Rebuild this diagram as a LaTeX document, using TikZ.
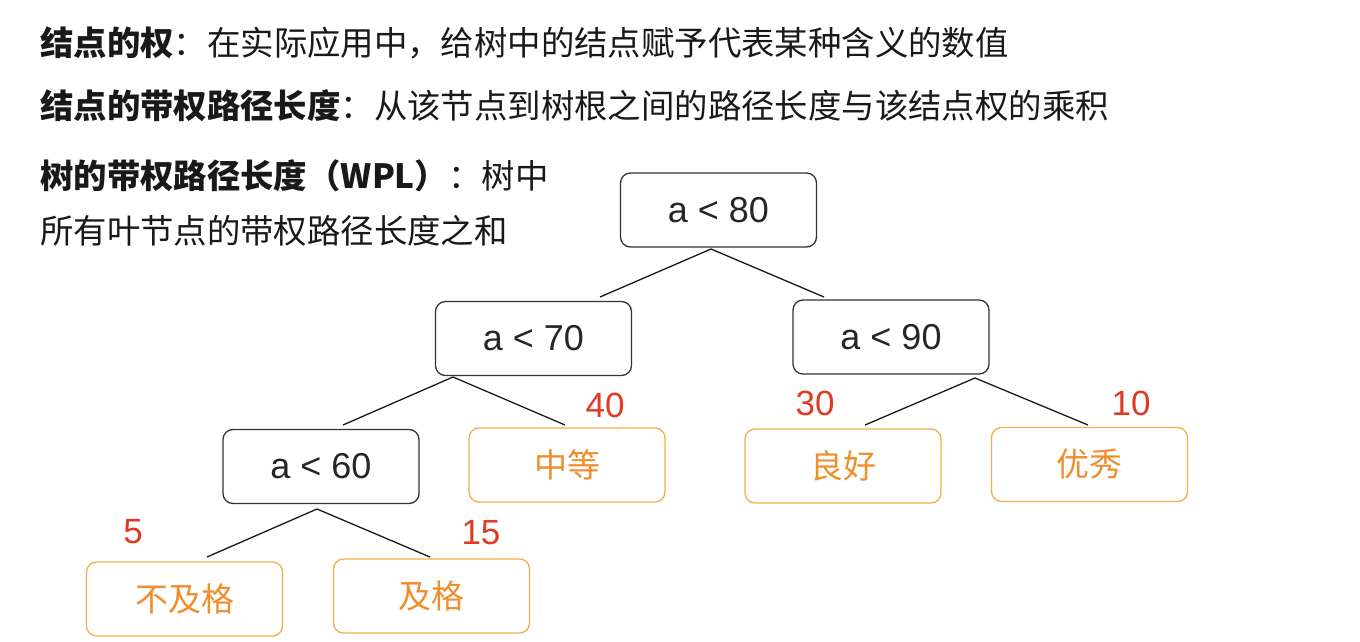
\documentclass[tikz,border=0pt]{standalone}
\usepackage{fontspec}
\setmainfont{Noto Sans CJK SC}
\newfontfamily\latinsans{Liberation Sans}
\definecolor{boxline}{HTML}{333333}
\definecolor{orangeline}{HTML}{F3AE4B}
\definecolor{orangetext}{HTML}{EF8E2C}
\definecolor{weightred}{HTML}{E03A24}
\tikzset{
  decbox/.style={draw=boxline, line width=1.3pt, rounded corners=10pt, minimum width=196pt, minimum height=74pt, inner sep=0pt, font=\latinsans\fontsize{36}{36}\selectfont, text=black!85},
  leafbox/.style={draw=orangeline, line width=1.3pt, rounded corners=10pt, minimum width=196pt, minimum height=74pt, inner sep=0pt, font=\fontsize{33}{33}\selectfont, text=orangetext},
  weight/.style={text=weightred, font=\latinsans\fontsize{35}{35}\selectfont, inner sep=0pt},
  edge/.style={line width=1.3pt, draw=black!90},
  txt/.style={anchor=west, inner sep=0pt, font=\fontsize{33.4}{33.4}\selectfont, text=black!90}
}
\begin{document}
\begin{tikzpicture}[x=1pt, y=-1pt]
\useasboundingbox[fill=white] (0,0) rectangle (1360,642);
% header text
\node[txt] (t1) at (40,43) {\textbf{结点的权}：在实际应用中，给树中的结点赋予代表某种含义的数值};
\node[txt] (t2) at (40,106) {\textbf{结点的带权路径长度}：从该节点到树根之间的路径长度与该结点权的乘积};
\node[txt] (t3) at (40,176) {\textbf{树的带权路径长度（WPL）}：树中};
\node[txt] (t4) at (40,231) {所有叶节点的带权路径长度之和};
% boxes
\node[decbox] (r80) at (718.5,210) {a < 80};
\node[decbox] (r70) at (533.5,338.5) {a < 70};
\node[decbox] (r90) at (891,337) {a < 90};
\node[decbox] (r60) at (321,466.5) {a < 60};
\node[leafbox] (mid) at (567,465) {中等};
\node[leafbox] (good) at (843,466) {良好};
\node[leafbox] (exc) at (1089.5,464.5) {优秀};
\node[leafbox] (fail) at (184.5,599) {不及格};
\node[leafbox] (pass) at (431.5,596) {及格};
% weights
\node[weight] (w40) at (605,405) {40};
\node[weight] (w30) at (815,403) {30};
\node[weight] (w10) at (1131,403) {10};
\node[weight] (w5) at (133,532) {5};
\node[weight] (w15) at (481,533) {15};
% connector end points
\coordinate (a80) at (711,249);
\coordinate (e70) at (600,297);
\coordinate (e90) at (824,297);
\coordinate (a70) at (453,377);
\coordinate (e60) at (343,425);
\coordinate (emid) at (565,425);
\coordinate (a90) at (975,378);
\coordinate (egood) at (865,425);
\coordinate (eexc) at (1088,425);
\coordinate (a60) at (317,509);
\coordinate (efail) at (207,557);
\coordinate (epass) at (430,557);
\draw[edge] (e70) -- (a80) -- (e90);
\draw[edge] (e60) -- (a70) -- (emid);
\draw[edge] (egood) -- (a90) -- (eexc);
\draw[edge] (efail) -- (a60) -- (epass);
\end{tikzpicture}
\end{document}
